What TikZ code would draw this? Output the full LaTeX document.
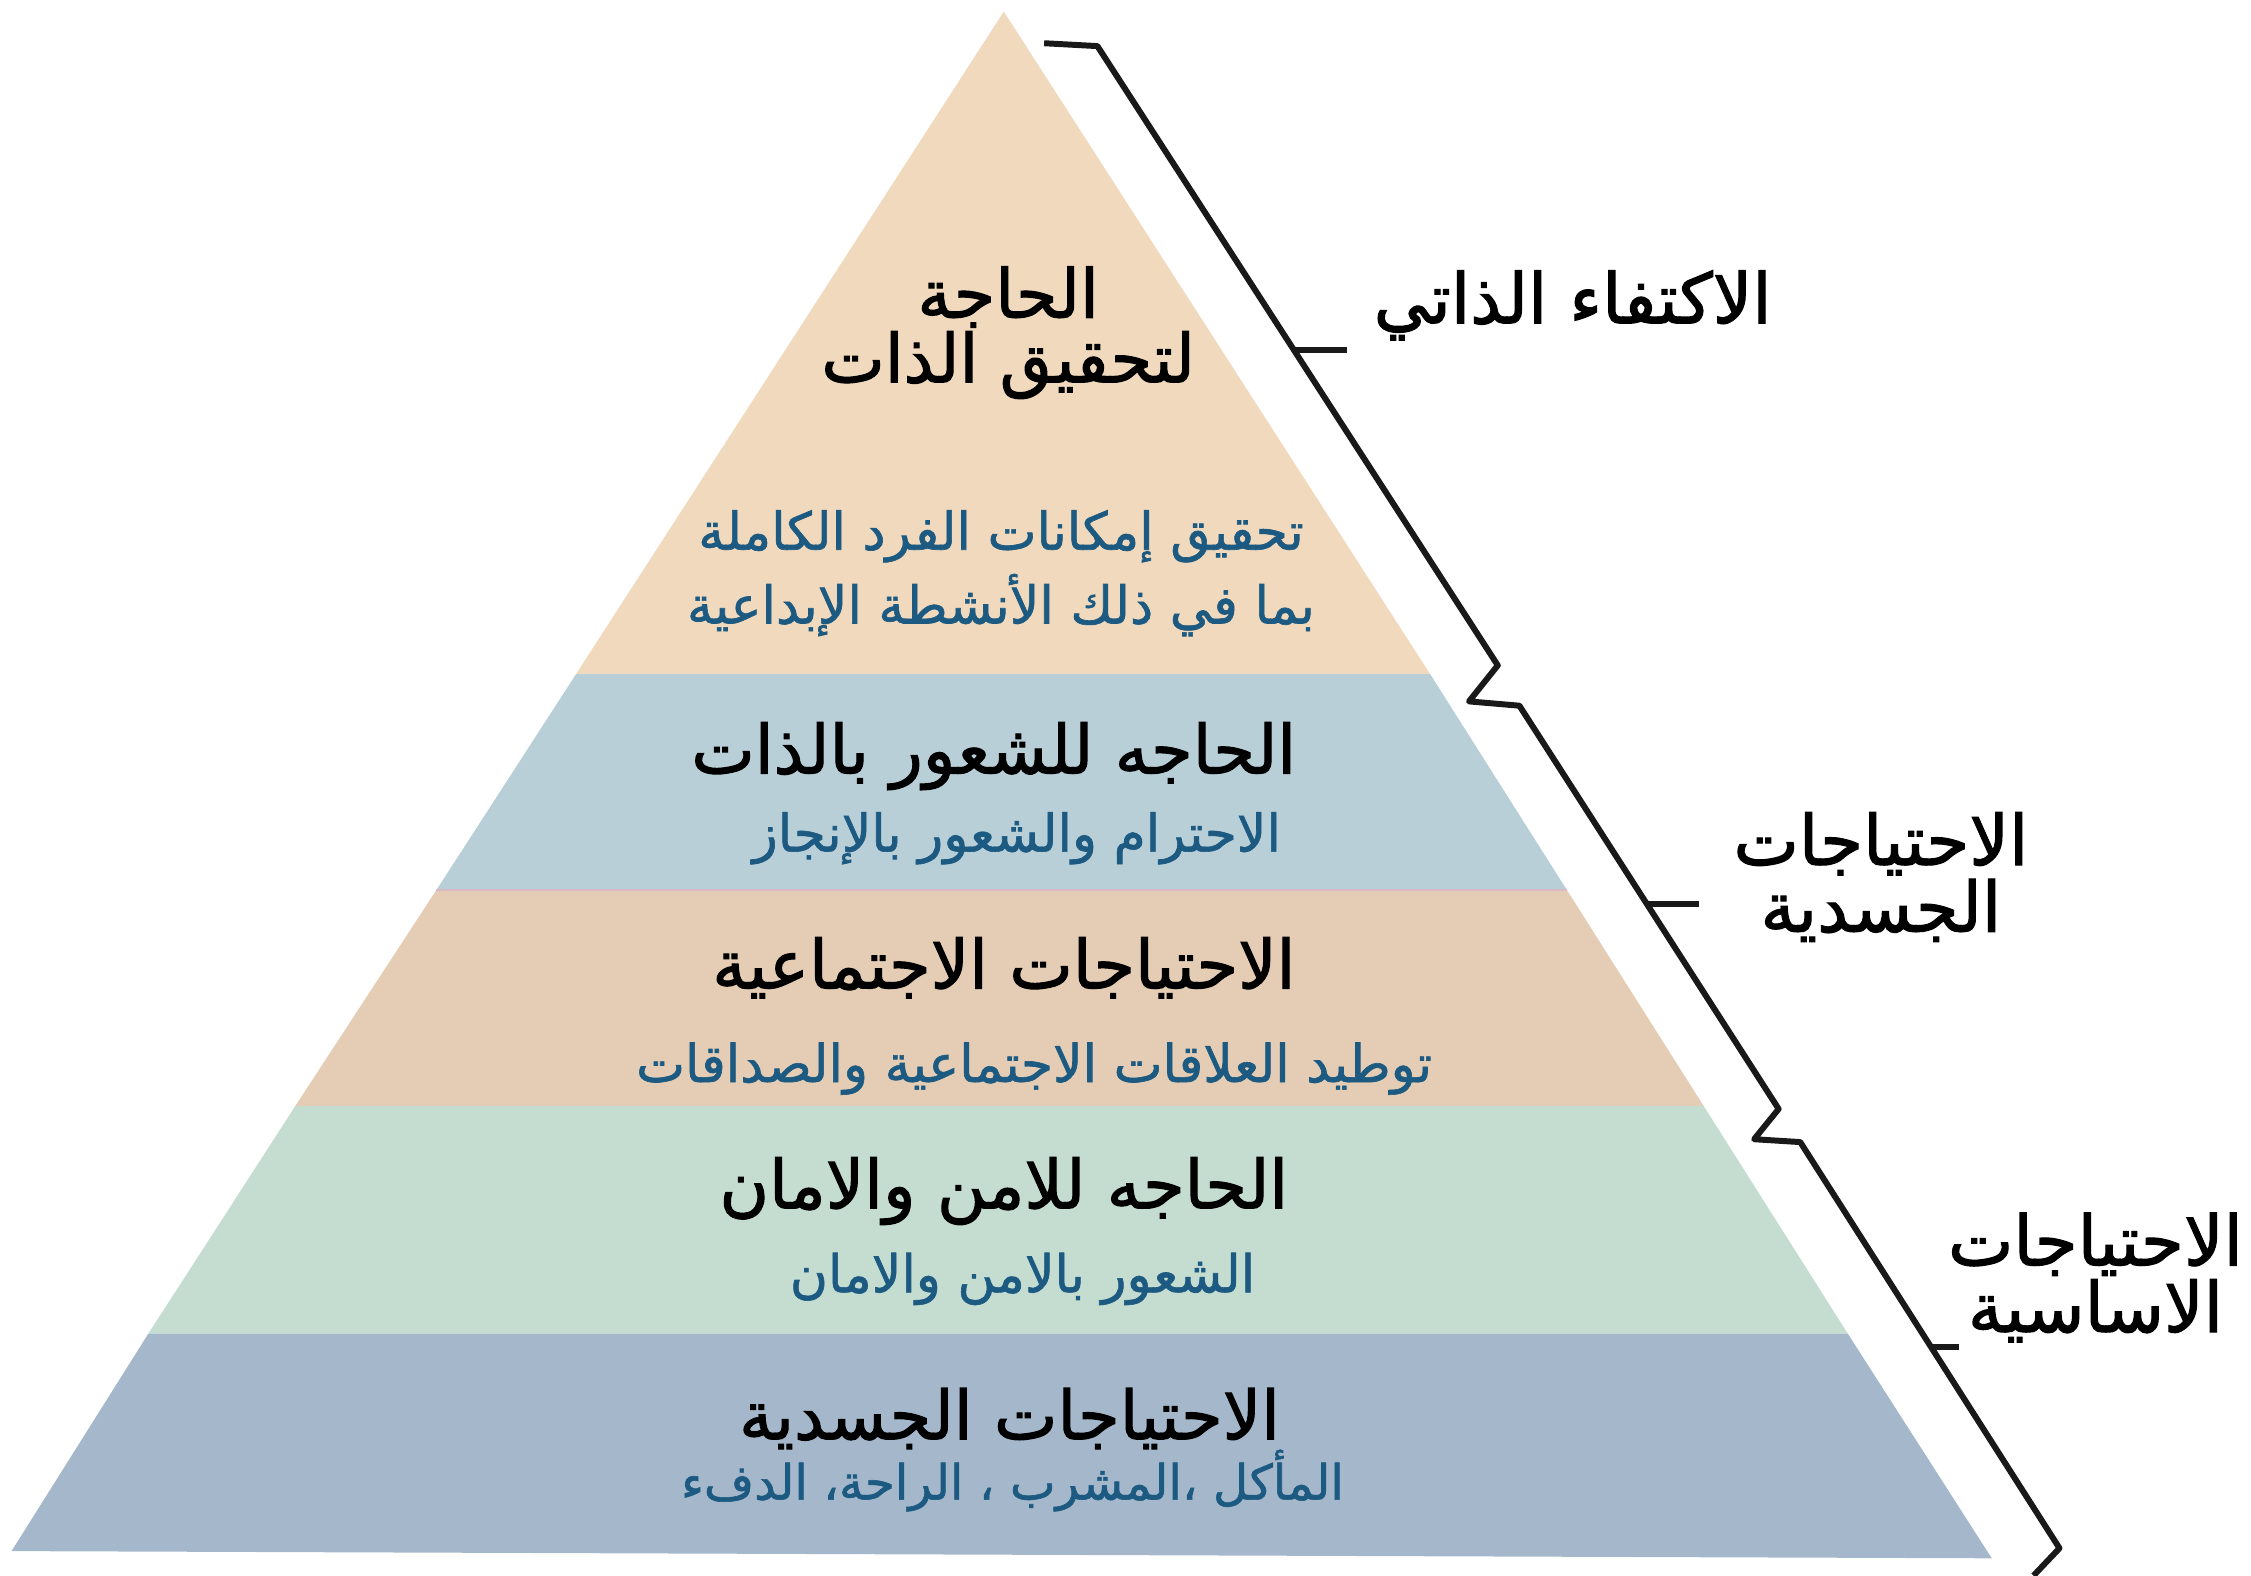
\documentclass[tikz,border=0pt]{standalone}
\usepackage{fontspec}
\newfontfamily\arabicmed[Script=Arabic, FakeBold=1.6]{DejaVu Sans}
\newfontfamily\arabicsub[Script=Arabic, FakeBold=1.2]{DejaVu Sans}
\TeXXeTstate=1
\definecolor{bandA}{RGB}{240,217,189}
\definecolor{bandB}{RGB}{185,207,216}
\definecolor{bandC}{RGB}{228,205,180}
\definecolor{bandD}{RGB}{197,221,208}
\definecolor{bandE}{RGB}{165,184,203}
\definecolor{subblue}{RGB}{28,90,130}
\definecolor{seam}{RGB}{214,186,200}
\tikzset{
  heading/.style={font=\arabicmed\fontsize{19.2}{17}\selectfont, text=black, align=center, inner sep=0pt},
  subtext/.style={font=\arabicsub\fontsize{14.8}{21}\selectfont, text=subblue, align=center, inner sep=0pt},
  sidelabel/.style={font=\arabicmed\fontsize{19.8}{17}\selectfont, text=black, align=center, inner sep=0pt},
  bracket/.style={draw=black!90, line width=1.7pt, line join=round},
}
\begin{document}
\begin{tikzpicture}[x=0.0144cm, y=-0.0144cm]
\useasboundingbox (0,0) rectangle (1563,1094);
% bands
\fill[bandA] (697,8) -- (993,468) -- (400,468) -- cycle;
\fill[bandB] (400,468) -- (993,468) -- (1088,618) -- (303,618) -- cycle;
\fill[bandC] (303,618) -- (1088,618) -- (1183,768) -- (205,768) -- cycle;
\fill[bandD] (205,768) -- (1183,768) -- (1283,926) -- (103,926) -- cycle;
\fill[bandE] (103,926) -- (1283,926) -- (1383,1082) -- (8,1077) -- cycle;
\draw[seam, line width=0.6pt] (303,618) -- (1088,618);
% bracket
\draw[bracket] (725,30) -- (762,32) -- (1040,462) -- (1020,487) -- (1055,490)
  -- (1235,770) -- (1218,791) -- (1250,793) -- (1430,1075) -- (1412,1094);
\coordinate (t1a) at (899,243); \coordinate (t1b) at (935,243);
\coordinate (t2a) at (1144,628); \coordinate (t2b) at (1180,628);
\coordinate (t3a) at (1341,935); \coordinate (t3b) at (1360,935);
\draw[bracket] (t1a) -- (t1b);
\draw[bracket] (t2a) -- (t2b);
\draw[bracket] (t3a) -- (t3b);
% side labels
\node[sidelabel] (s1) at (1092,212) {\beginR الاكتفاء الذاتي\endR};
\node[sidelabel] (s2) at (1306,609) {\beginR الاحتياجات\endR\\\beginR الجسدية\endR};
\node[sidelabel] (s3) at (1455,887) {\beginR الاحتياجات\endR\\\beginR الاساسية\endR};
% pyramid texts
\node[heading] (h1) at (700,231) {\beginR الحاجة\endR\\\beginR لتحقيق الذات\endR};
\node[subtext] (d1) at (695,398) {\beginR تحقيق إمكانات الفرد الكاملة\endR\\\beginR بما في ذلك الأنشطة الإبداعية\endR};
\node[heading] (h2) at (690,525) {\beginR الحاجه للشعور بالذات\endR};
\node[subtext] (d2) at (706,582) {\beginR الاحترام والشعور بالإنجاز\endR};
\node[heading] (h3) at (697,672) {\beginR الاحتياجات الاجتماعية\endR};
\node[subtext] (d3) at (718,742) {\beginR توطيد العلاقات الاجتماعية والصداقات\endR};
\node[heading] (h4) at (697,827) {\beginR الحاجه للامن والامان\endR};
\node[subtext] (d4) at (710,888) {\beginR الشعور بالامن والامان\endR};
\node[heading] (h5) at (701,985) {\beginR الاحتياجات الجسدية\endR};
\node[subtext, font=\arabicsub\fontsize{13.8}{21}\selectfont] (d5) at (703,1028) {\beginR المأكل ،المشرب ، الراحة، الدفء\endR};
\end{tikzpicture}
\end{document}
